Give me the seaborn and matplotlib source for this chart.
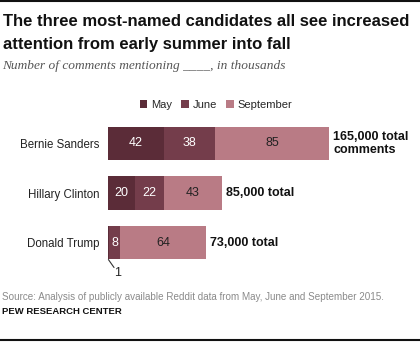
import matplotlib
matplotlib.use("Agg")
import matplotlib.pyplot as plt
from matplotlib.patches import Patch
from matplotlib.lines import Line2D
import seaborn as sns
import pandas as pd
import numpy as np

candidates = ["Bernie Sanders", "Hillary Clinton", "Donald Trump"]
may = [42, 20, 1]
june = [38, 22, 8]
september = [85, 43, 64]
totals_text = ["165,000 total\ncomments", "85,000 total", "73,000 total"]
months = ["May", "June", "September"]
colors = ["#5b2c38", "#743d4b", "#b97b85"]

sns.set_theme(style="white")
plt.rcParams['font.family'] = ['Liberation Sans', 'DejaVu Sans']

W, H = 420, 342
fig = plt.figure(figsize=(W / 100, H / 100), dpi=100)

def fx(px):
    return px / W

def fy(py):
    return 1 - py / H

ppu = 221 / 165.0
ax_left, ax_right = 108, 420
ax_top, ax_bottom = 118.5, 267.5
ax = fig.add_axes([fx(ax_left), fy(ax_bottom), fx(ax_right - ax_left), (ax_bottom - ax_top) / H])

df = pd.DataFrame({"candidate": candidates, "may": may, "june": june, "september": september})
df["c1"] = df["may"]
df["c2"] = df["may"] + df["june"]
df["c3"] = df["c2"] + df["september"]

for col, color in zip(["c3", "c2", "c1"], colors[::-1]):
    sns.barplot(data=df, y="candidate", x=col, orient="h", color=color,
                saturation=1, width=0.67, ax=ax, edgecolor="none", linewidth=0)

ax.set_xlim(0, (ax_right - ax_left) / ppu)
ax.set_ylim(2.5, -0.5)
ax.set_xlabel("")
ax.set_ylabel("")
ax.set_xticks([])
ax.tick_params(axis="y", length=0, pad=6, labelsize=8.3)
ax.set_yticks(range(3))
ax.set_yticklabels(candidates, color="#222222")
sns.despine(ax=ax, left=True, bottom=True)

for i in range(3):
    segs = [(0, may[i]), (may[i], june[i]), (may[i] + june[i], september[i])]
    tcolors = ["white", "white", "#222222"]
    for j, (start, val) in enumerate(segs):
        if val >= 5:
            ax.text(start + val / 2, i, str(val), ha="center", va="center",
                    color=tcolors[j], fontsize=9)
    tot = may[i] + june[i] + september[i]
    ax.text(tot + 3, i, totals_text[i], ha="left", va="center",
            fontsize=9, fontweight="bold", color="#111111", linespacing=1.1)

# small May value for Trump with leader line
ax.plot([0.3, 4.5], [2.34, 2.5], color="#333333", lw=0.8, clip_on=False)
ax.text(7.5, 2.62, str(may[2]), ha="center", va="center", fontsize=9, color="#222222")

# legend
handles = [Patch(facecolor=c, edgecolor="none") for c in colors]
fig.legend(handles, months, loc="center", bbox_to_anchor=(fx(216), fy(105)),
           ncol=3, frameon=False, fontsize=8, handlelength=0.7, handleheight=0.7,
           handletextpad=0.35, columnspacing=0.8)

# titles
fig.text(fx(3), fy(21), "The three most-named candidates all see increased",
         ha="left", va="center", fontsize=12, fontweight="bold", color="#111111")
fig.text(fx(3), fy(44), "attention from early summer into fall",
         ha="left", va="center", fontsize=12, fontweight="bold", color="#111111")
fig.text(fx(2), fy(66), "Number of comments mentioning ____, in thousands",
         ha="left", va="center", fontsize=9.6, style="italic", color="#555555",
         family=["Liberation Serif", "DejaVu Serif"])

fig.text(fx(2), fy(297), "Source: Analysis of publicly available Reddit data from May, June and September 2015.",
         ha="left", va="center", fontsize=7.1, color="#8a8a8a")
fig.text(fx(2), fy(311), "PEW RESEARCH CENTER", ha="left", va="center",
         fontsize=6.8, fontweight="bold", color="#111111")

fig.add_artist(Line2D([0, 1], [fy(1), fy(1)], color="#111111", lw=1.5, transform=fig.transFigure))
fig.add_artist(Line2D([0, 1], [fy(340), fy(340)], color="#111111", lw=1.5, transform=fig.transFigure))

fig.savefig("out.png", dpi=100)
